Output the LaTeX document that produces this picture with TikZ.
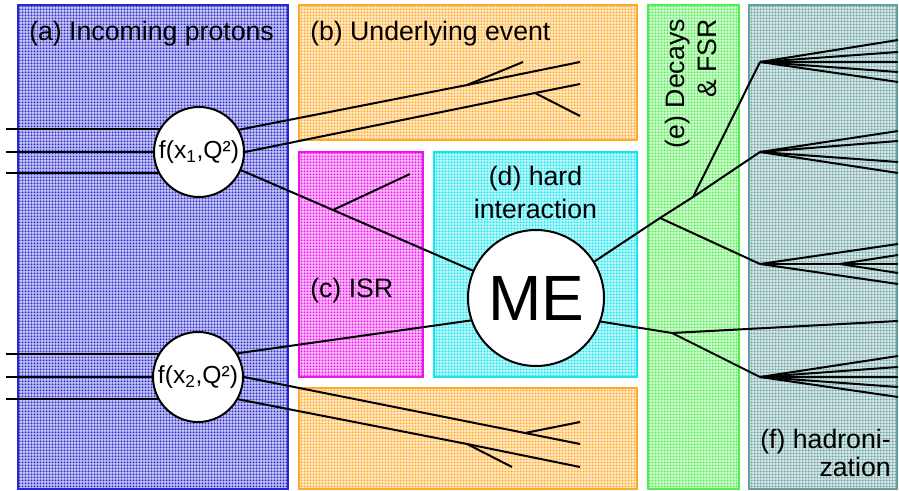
\documentclass[tikz,border=0pt]{standalone}
\usepackage{fontspec}
\setmainfont{Liberation Sans}
\usetikzlibrary{patterns}
\pgfdeclarepatternformonly{mydots}{\pgfpoint{-0.1pt}{-0.1pt}}{\pgfpoint{2.35pt}{2.35pt}}{\pgfpoint{2.25pt}{2.25pt}}{\pgfpathcircle{\pgfpoint{1.125pt}{1.125pt}}{0.75pt}\pgfusepath{fill}}
\definecolor{cA}{RGB}{40,40,205}
\definecolor{cB}{RGB}{255,170,40}
\definecolor{cC}{RGB}{240,20,240}
\definecolor{cD}{RGB}{20,230,240}
\definecolor{cE}{RGB}{80,240,80}
\definecolor{cF}{RGB}{100,160,160}
\pgfdeclarelayer{bg}
\pgfdeclarelayer{mid}
\pgfsetlayers{bg,mid,main}
\begin{document}
\begin{tikzpicture}[x=0.75pt,y=-0.75pt,
  region/.style={draw=#1, line width=1.5pt, preaction={fill=#1!30}, pattern=mydots, pattern color=#1},
  blob/.style={circle, draw, line width=1.5pt, fill=white, inner sep=0pt, minimum size=67.5pt},
  lbl/.style={inner sep=0pt, font=\fontsize{20}{24}\selectfont},
  wire/.style={line width=1.5pt}]
\useasboundingbox (0,0) rectangle (899,491);

% regions
\begin{pgfonlayer}{bg}
\path[region=cA] (17.5,5.5) rectangle (287.5,488.5);
\path[region=cB] (298.5,5.5) rectangle (637,140);
\path[region=cC] (298.5,152) rectangle (423,377);
\path[region=cD] (434,152) rectangle (637,377);
\path[region=cB] (298.5,388) rectangle (637,488.5);
\path[region=cE] (647.5,5.5) rectangle (738.5,488.5);
\path[region=cF] (748.5,5.5) rectangle (897,488.5);
\end{pgfonlayer}

% blobs
\node[blob, font=\fontsize{18.5}{20}\selectfont] (f1) at (199,152) {f(x\textsubscript{1},Q²)};
\node[blob, font=\fontsize{18.5}{20}\selectfont] (f2) at (198,377) {f(x\textsubscript{2},Q²)};
\node[blob, minimum size=102pt, font=\fontsize{48}{50}\selectfont] (me) at (536,298) {ME};

% labels
\node[lbl, anchor=base west] (la) at (29,40.5) {(a) Incoming protons};
\node[lbl, anchor=base west] (lb) at (310,40.5) {(b) Underlying event};
\node[lbl, anchor=base west] (lc) at (310,297.5) {(c) ISR};
\node[lbl, anchor=south, align=center, font=\fontsize{20}{24.75}\selectfont] (ld) at (535.5,219) {(d) hard\\interaction};
\node[lbl, anchor=south east, align=right, rotate=90, font=\fontsize{20}{24}\selectfont] (le) at (717,19) {(e) Decays\\\& FSR};
\node[lbl, anchor=south east, align=right, font=\fontsize{20}{21}\selectfont] (lf) at (891,477) {(f) hadroni-\\zation};

% coordinates
\coordinate (in1) at (6,129); \coordinate (in2) at (6,152); \coordinate (in3) at (6,173);
\coordinate (in4) at (6,354); \coordinate (in5) at (6,377); \coordinate (in6) at (6,399);
\coordinate (ua1) at (467,85); \coordinate (ua2) at (580,62); \coordinate (ua3) at (523,62);
\coordinate (ub1) at (535,93); \coordinate (ub2) at (580,84); \coordinate (ub3) at (580,116);
\coordinate (lb1) at (525,433); \coordinate (lb2) at (580,444); \coordinate (lb3) at (580,422);
\coordinate (la1) at (467,444); \coordinate (la2) at (580,467); \coordinate (la3) at (512,467);
\coordinate (isr1) at (333,210); \coordinate (isr2) at (410,174);
\coordinate (fs1) at (660,218); \coordinate (fs2) at (693,197); \coordinate (fs3) at (672,333);
\coordinate (j1) at (760,62); \coordinate (j2) at (760,152); \coordinate (j3) at (760,264); \coordinate (j4) at (760,377);
\coordinate (j3b) at (840,264); \coordinate (hz) at (898,321);

\begin{pgfonlayer}{mid}
\draw[wire] (in1) -- (in1 -| f1.center);
\draw[wire] (in2) -- (f1.center);
\draw[wire] (in3) -- (in3 -| f1.center);
\draw[wire] (in4) -- (in4 -| f2.center);
\draw[wire] (in5) -- (f2.center);
\draw[wire] (in6) -- (in6 -| f2.center);
% underlying event
\draw[wire] (f1.29) -- (ua1) -- (ua2);
\draw[wire] (ua1) -- (ua3);
\draw[wire] (f1.east) -- (ub1) -- (ub2);
\draw[wire] (ub1) -- (ub3);
\draw[wire] (f2.east) -- (lb1) -- (lb2);
\draw[wire] (lb1) -- (lb3);
\draw[wire] (f2.-29) -- (la1) -- (la2);
\draw[wire] (la1) -- (la3);
% hard process and ISR
\draw[wire] (f1.center) -- (isr1) -- (me.center);
\draw[wire] (isr1) -- (isr2);
\draw[wire] (f2.31) -- (me.199);
% decays, FSR
\draw[wire] (me.32) -- (fs1) -- (fs2) -- (j2);
\draw[wire] (fs2) -- (j1);
\draw[wire] (fs1) -- (j3);
\draw[wire] (me.340) -- (fs3) -- (hz);
\draw[wire] (fs3) -- (j4);
% hadronization
\foreach \y [count=\i] in {40,52,62,72,82} {\coordinate (h1-\i) at (898,\y); \draw[wire] (j1) -- (h1-\i);}
\foreach \y [count=\i] in {131,141,162,173} {\coordinate (h2-\i) at (898,\y); \draw[wire] (j2) -- (h2-\i);}
\foreach \y [count=\i] in {244,264,284} {\coordinate (h3-\i) at (898,\y); \draw[wire] (j3) -- (h3-\i);}
\foreach \y [count=\i] in {255,273} {\coordinate (h3b-\i) at (898,\y); \draw[wire] (j3b) -- (h3b-\i);}
\foreach \y [count=\i] in {356,367,377,387,397} {\coordinate (h4-\i) at (898,\y); \draw[wire] (j4) -- (h4-\i);}
\end{pgfonlayer}
\end{tikzpicture}
\end{document}
